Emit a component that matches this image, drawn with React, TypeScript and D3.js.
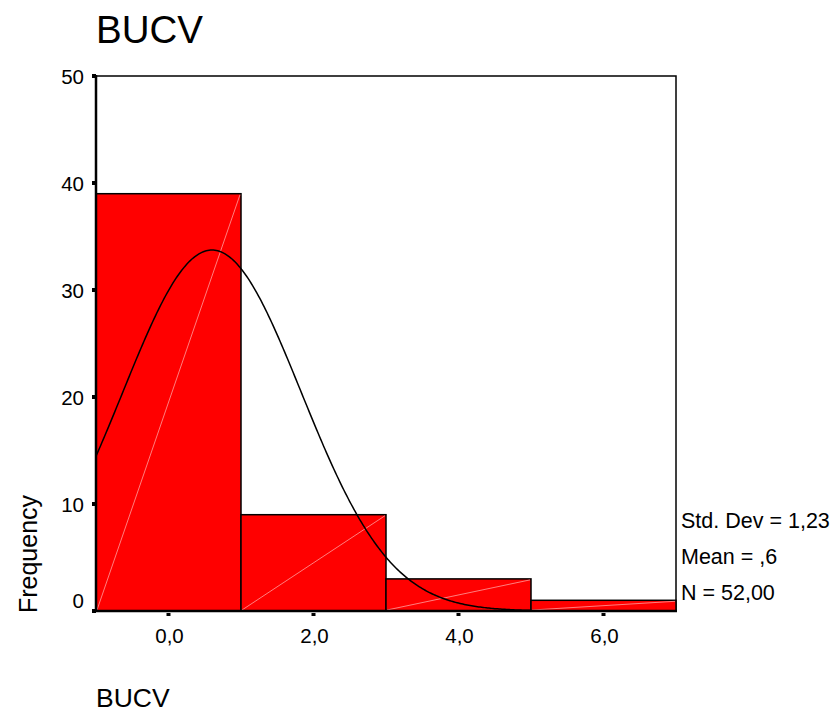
import React, { useEffect } from "react";
import * as d3 from "d3";

const binEdges: number[] = [-1, 1, 3, 5, 7];
const counts: number[] = [39, 9, 3, 1];
const xTicks: number[] = [0, 2, 4, 6];
const yTicks: number[] = [0, 10, 20, 30, 40, 50];
const statLabels: string[] = ["Std. Dev = 1,23", "Mean = ,6", "N = 52,00"];
const stdDev = 1.23;
const mean = 0.6;
const nCases = 52;
const title = "BUCV";
const xTitle = "BUCV";
const yTitle = "Frequency";

const W = 838;
const H = 715;
const L = 96, R = 676, T = 76, B = 611;
const FONT = "'Liberation Sans', Arial, sans-serif";

export default function App() {
  useEffect(() => {
    document.body.style.margin = "0";
  }, []);
  const x = d3.scaleLinear().domain([-1, 7]).range([L, R]);
  const y = d3.scaleLinear().domain([0, 50]).range([B, T]);
  const binW = binEdges[1] - binEdges[0];

  const bars = counts.map((c, i) => ({ x0: binEdges[i], x1: binEdges[i + 1], c }));

  // fitted normal curve from displayed statistics
  const pts: [number, number][] = [];
  for (let v = -1; v <= 5.0001; v += 0.02) {
    const z = (v - mean) / stdDev;
    const f = (nCases * binW) / (stdDev * Math.sqrt(2 * Math.PI)) * Math.exp(-0.5 * z * z);
    pts.push([v, f]);
  }
  const line = d3.line<[number, number]>().x((d) => x(d[0])).y((d) => y(d[1]));

  return (
    <svg width={W} height={H} style={{ display: "block", position: "absolute", left: 0, top: 0, background: "#fff" }}>
      <rect x={0} y={0} width={W} height={H} fill="#fff" />
      <text x={96} y={43} fontFamily={FONT} fontSize={38.5} fill="#000">{title}</text>
      {/* plot frame */}
      <rect x={L} y={T} width={R - L} height={B - T} fill="#fff" stroke="#000" strokeWidth={1.5} />
      {bars.map((b, i) => (
        <g key={i}>
          <rect x={x(b.x0)} y={y(b.c)} width={x(b.x1) - x(b.x0)} height={y(0) - y(b.c)} fill="#ff0000" stroke="#000" strokeWidth={1.5} />
          <line x1={x(b.x0) + 1} y1={y(0) - 1} x2={x(b.x1) - 1} y2={y(b.c) + 1} stroke="#ffb4b4" strokeWidth={0.7} />
        </g>
      ))}
      <path d={line(pts) || ""} fill="none" stroke="#000" strokeWidth={1.5} />
      {/* axes */}
      <line x1={L} y1={T - 1} x2={L} y2={B + 1} stroke="#000" strokeWidth={2.5} />
      <line x1={L - 1} y1={B} x2={R + 1} y2={B} stroke="#000" strokeWidth={2.5} />
      {yTicks.map((t) => (
        <g key={t}>
          <rect x={L - 4} y={y(t) - 2} width={4} height={4} fill="#000" />
          <text x={84} y={y(t) + (t === 0 ? -3 : 8)} textAnchor="end" fontFamily={FONT} fontSize={20.5} fill="#000">{t}</text>
        </g>
      ))}
      {xTicks.map((t) => (
        <g key={t}>
          <rect x={x(t) - 2} y={B + 2} width={4} height={3} fill="#000" />
          <text x={x(t) + 1} y={643} textAnchor="middle" fontFamily={FONT} fontSize={20.5} fill="#000">{d3.format(".1f")(t).replace(".", ",")}</text>
        </g>
      ))}
      {statLabels.map((s, i) => (
        <text key={s} x={681} y={528 + i * 36} fontFamily={FONT} fontSize={21.5} fill="#000">{s}</text>
      ))}
      <text transform={`translate(37,554) rotate(-90)`} textAnchor="middle" fontFamily={FONT} fontSize={25} fill="#000">{yTitle}</text>
      <text x={96} y={707} fontFamily={FONT} fontSize={26.5} fill="#000">{xTitle}</text>
    </svg>
  );
}
